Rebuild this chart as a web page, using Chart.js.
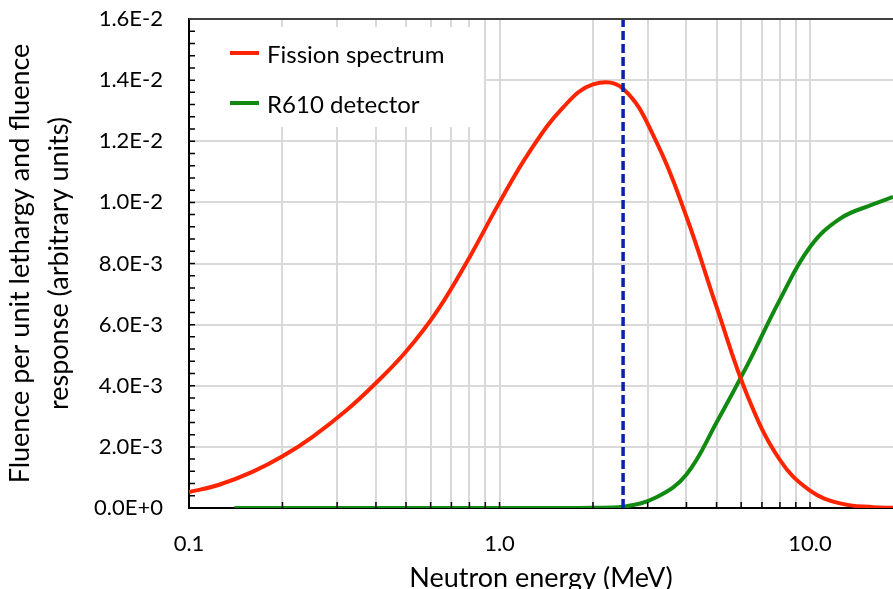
<!DOCTYPE html>
<html>
<head>
<meta charset="utf-8">
<script src="https://cdn.jsdelivr.net/npm/chart.js@4/dist/chart.umd.min.js"></script>
<style>
html, body { margin: 0; padding: 0; background: #fff; overflow: hidden; }
</style>
</head>
<body>
<canvas id="myChart" width="893" height="589"></canvas>
<script>
// Espectro de fision (energia en MeV, fluencia por unidad de letargia)
const fissionE   = [0.1, 0.125, 0.16, 0.2, 0.25, 0.32, 0.4, 0.5, 0.63, 0.8, 1.0, 1.25, 1.6, 2.0, 2.5, 3.2, 4.0, 5.0, 6.3, 8.0, 10.0, 12.5, 16.0, 18.5];
const fissionVal = [0.52e-3, 0.76e-3, 1.18e-3, 1.69e-3, 2.33e-3, 3.18e-3, 4.09e-3, 5.12e-3, 6.45e-3, 8.2e-3, 10.0e-3, 11.66e-3, 13.1e-3, 13.86e-3, 13.72e-3, 11.98e-3, 9.53e-3, 6.58e-3, 3.65e-3, 1.57e-3, 0.57e-3, 0.15e-3, 0.025e-3, 0.005e-3];

// Respuesta del detector R610
const detectorE   = [0.14, 1.0, 1.6, 2.0, 2.5, 3.2, 4.0, 5.0, 6.3, 8.0, 10.0, 12.5, 16.0, 18.5];
const detectorVal = [0, 0, 0, 0.005e-3, 0.04e-3, 0.35e-3, 1.1e-3, 2.8e-3, 4.7e-3, 6.82e-3, 8.54e-3, 9.47e-3, 9.94e-3, 10.18e-3];

// Linea vertical discontinua
const markerE   = [2.5, 2.5];
const markerVal = [0, 0.016];

// Ticks del eje X (lineas de rejilla) y etiquetas visibles
const xGridTicks  = [0.1, 0.2, 0.3, 0.4, 0.5, 0.6, 0.7, 0.8, 0.9, 1, 2, 3, 4, 5, 6, 7, 8, 9, 10];
const xTickValues = [0.1, 1, 10];
const xTickLabels = ['0.1', '1.0', '10.0'];

const legendItems = ['Fission spectrum', 'R610 detector'];
const legendColors = ['#ff2400', '#118a11'];

const toPoints = (xs, ys) => xs.map((x, i) => ({ x: x, y: ys[i] }));

// Marco superior, ticks interiores y leyenda dentro del area
const extras = {
    id: 'extras',
    beforeDatasetsDraw(chart) {
        const ctx = chart.ctx;
        const a = chart.chartArea;
        ctx.save();
        ctx.fillStyle = '#fff';
        ctx.fillRect(a.left + 1, a.top + 8, 294, 100);
        legendItems.forEach((txt, i) => {
            const y = a.top + 34 + i * 50;
            ctx.strokeStyle = legendColors[i];
            ctx.lineWidth = 4;
            ctx.beginPath();
            ctx.moveTo(a.left + 41, y);
            ctx.lineTo(a.left + 70, y);
            ctx.stroke();
            ctx.fillStyle = '#000';
            ctx.font = '24px Lato';
            ctx.textBaseline = 'middle';
            ctx.fillText(txt, a.left + 78, y + 2);
        });
        ctx.restore();
    },
    afterDraw(chart) {
        const ctx = chart.ctx;
        const a = chart.chartArea;
        const xs = chart.scales.x;
        const ys = chart.scales.y;
        ctx.save();
        ctx.strokeStyle = '#000';
        ctx.lineWidth = 1.5;
        ctx.beginPath();
        xs.ticks.forEach(t => {
            const px = xs.getPixelForValue(t.value);
            ctx.moveTo(px, a.bottom);
            ctx.lineTo(px, a.bottom - 6);
        });
        for (let i = 0; i <= 40; i++) {
            const py = ys.getPixelForValue(i * 0.0004);
            ctx.moveTo(a.left, py);
            ctx.lineTo(a.left + 6, py);
        }
        ctx.stroke();
        ctx.strokeStyle = '#404040';
        ctx.lineWidth = 2;
        ctx.beginPath();
        ctx.moveTo(a.left, a.top);
        ctx.lineTo(a.right, a.top);
        ctx.stroke();
        ctx.restore();
    }
};

Chart.defaults.font.family = 'Lato';
Chart.defaults.color = '#000';

new Chart(document.getElementById('myChart'), {
    type: 'line',
    data: {
        datasets: [
            {
                label: 'Dashed marker',
                data: toPoints(markerE, markerVal),
                borderColor: '#0a22a8',
                borderWidth: 3.5,
                borderDash: [9, 4],
                pointRadius: 0,
                order: 0
            },
            {
                label: legendItems[0],
                data: toPoints(fissionE, fissionVal),
                borderColor: legendColors[0],
                borderWidth: 4,
                pointRadius: 0,
                tension: 0.4,
                order: 1
            },
            {
                label: legendItems[1],
                data: toPoints(detectorE, detectorVal),
                borderColor: legendColors[1],
                borderWidth: 4,
                pointRadius: 0,
                tension: 0.4,
                order: 2
            }
        ]
    },
    options: {
        responsive: false,
        animation: false,
        layout: { padding: { top: 19, left: 0, right: 0, bottom: 0 } },
        plugins: {
            legend: { display: false },
            tooltip: { enabled: false }
        },
        scales: {
            x: {
                type: 'logarithmic',
                min: 0.1,
                max: 18.5,
                afterBuildTicks: s => { s.ticks = xGridTicks.map(v => ({ value: v })); },
                afterFit: s => { s.height = 81; },
                grid: { color: '#d9d9d9', lineWidth: 2, drawTicks: false },
                border: { color: '#000', width: 2 },
                ticks: {
                    autoSkip: false,
                    maxRotation: 0,
                    padding: 23,
                    font: { size: 22 },
                    callback: v => {
                        const i = xTickValues.findIndex(t => Math.abs(t - v) < 1e-9);
                        return i >= 0 ? xTickLabels[i] : '';
                    }
                },
                title: {
                    display: true,
                    text: 'Neutron energy (MeV)',
                    font: { size: 27, lineHeight: 0.82 },
                    padding: 0
                }
            },
            y: {
                min: 0,
                max: 0.016,
                afterFit: s => { s.width = 189; s.paddingTop = 0; s.paddingBottom = 0; },
                grid: {
                    color: c => (c.tick && Math.abs(c.tick.value - 0.016) < 1e-9) ? 'rgba(0,0,0,0)' : '#d9d9d9',
                    lineWidth: 2,
                    drawTicks: false
                },
                border: { color: '#000', width: 2 },
                ticks: {
                    stepSize: 0.002,
                    padding: 26,
                    font: { size: 22 },
                    callback: v => Number(v).toExponential(1).toUpperCase()
                },
                title: {
                    display: true,
                    text: ['Fluence per unit lethargy and fluence', 'response (arbitrary units)'],
                    font: { size: 27, lineHeight: 1.45 },
                    padding: { top: 1, bottom: 0 }
                }
            }
        }
    },
    plugins: [extras]
});
</script>
</body>
</html>
